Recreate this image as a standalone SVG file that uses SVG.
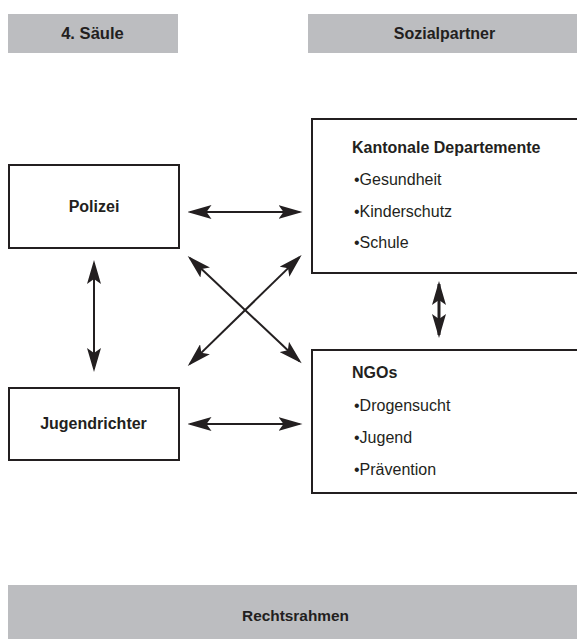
<svg xmlns="http://www.w3.org/2000/svg" width="577" height="639" viewBox="0 0 577 639">
<defs>
<style>
.bar{fill:#bcbdc0;}
.box{fill:#ffffff;stroke:#231f20;stroke-width:2;}
.t{font-family:"Liberation Sans",Arial,sans-serif;font-size:16px;fill:#231f20;}
.b{font-weight:bold;}
.mid{text-anchor:middle;}
.conn{stroke:#231f20;stroke-width:2;fill:none;marker-start:url(#ah);marker-end:url(#ah);}
</style>
<marker id="ah" viewBox="0 0 24 14" refX="21" refY="7" markerWidth="24" markerHeight="14" markerUnits="userSpaceOnUse" orient="auto-start-reverse">
<path d="M24,7 L0,0 L5,7 L0,14 Z" fill="#231f20"/>
</marker>
</defs>
<rect width="577" height="639" fill="#ffffff"/>
<g id="saeule">
<rect class="bar" x="8" y="14" width="170" height="39"/>
<text class="t b mid" x="92.5" y="39" style="font-size:16.6px">4. Säule</text>
</g>
<g id="sozialpartner">
<rect class="bar" x="308" y="14" width="269" height="39"/>
<text class="t b mid" x="444.5" y="39">Sozialpartner</text>
</g>
<g id="polizei">
<rect class="box" x="9" y="165" width="170" height="83"/>
<text class="t b mid" x="94" y="211.5">Polizei</text>
</g>
<g id="jugendrichter">
<rect class="box" x="9" y="388" width="170" height="72"/>
<text class="t b mid" x="93.5" y="429">Jugendrichter</text>
</g>
<g id="kantonale">
<rect class="box" x="312" y="119" width="280" height="154"/>
<text class="t b" x="352" y="153">Kantonale Departemente</text>
<text class="t" x="354" y="185">•Gesundheit</text>
<text class="t" x="354" y="216.5">•Kinderschutz</text>
<text class="t" x="354" y="248">•Schule</text>
</g>
<g id="ngos">
<rect class="box" x="312" y="350" width="280" height="143"/>
<text class="t b" x="352" y="378">NGOs</text>
<text class="t" x="354" y="411">•Drogensucht</text>
<text class="t" x="354" y="443">•Jugend</text>
<text class="t" x="354" y="475">•Prävention</text>
</g>
<g id="rechtsrahmen">
<rect class="bar" x="8" y="585" width="569" height="54"/>
<text class="t b mid" x="295.5" y="621" style="font-size:15.4px">Rechtsrahmen</text>
</g>
<g id="connectors">
<line class="conn" x1="190.5" y1="212" x2="299.5" y2="212"/>
<line class="conn" x1="190.5" y1="424" x2="299.5" y2="424"/>
<line class="conn" x1="94" y1="263" x2="94" y2="369"/>
<line class="conn" x1="439" y1="284" x2="439" y2="335" style="stroke-width:3"/>
<line class="conn" x1="189.9" y1="258.1" x2="299.5" y2="361.3"/>
<line class="conn" x1="299.5" y1="257.1" x2="189.9" y2="363.9"/>
</g>
</svg>
